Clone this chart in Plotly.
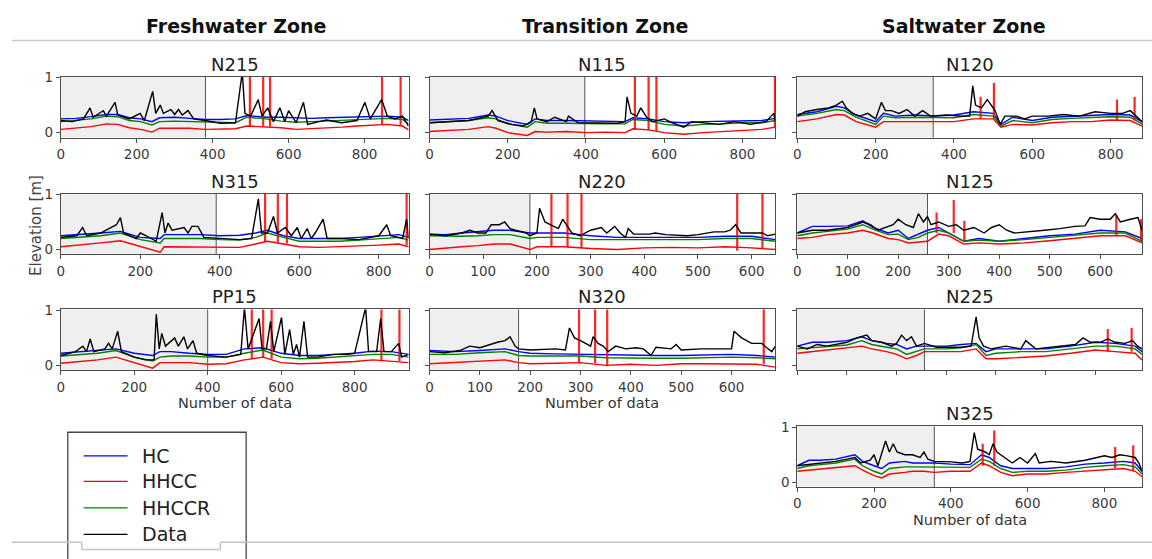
import plotly.graph_objects as go

# ---------------------------------------------------------------- data
SERIES_NAMES = ["HC", "HHCC", "HHCCR", "Data"]

# ---- N215 (Freshwater)
N215_x = [0, 40, 80, 120, 150, 180, 210, 240, 260, 300, 340, 380, 420, 460, 490, 540, 580, 620, 660, 700, 740, 780, 820, 860, 900, 916]
N215_HC = [0.25, 0.26, 0.29, 0.33, 0.33, 0.27, 0.25, 0.20, 0.27, 0.28, 0.26, 0.24, 0.24, 0.25, 0.31, 0.28, 0.28, 0.27, 0.26, 0.27, 0.28, 0.29, 0.30, 0.30, 0.28, 0.22]
N215_HHCC = [0.06, 0.08, 0.11, 0.16, 0.15, 0.09, 0.06, 0.01, 0.08, 0.08, 0.08, 0.06, 0.07, 0.07, 0.12, 0.11, 0.09, 0.06, 0.07, 0.09, 0.10, 0.12, 0.13, 0.15, 0.12, 0.05]
N215_HHCCR = [0.20, 0.22, 0.25, 0.30, 0.29, 0.22, 0.20, 0.14, 0.20, 0.21, 0.20, 0.19, 0.18, 0.18, 0.28, 0.25, 0.21, 0.19, 0.20, 0.21, 0.22, 0.24, 0.25, 0.26, 0.24, 0.16]
N215_spike_x = [498, 533, 551, 846, 895]
N215_spike_base = [0.12, 0.12, 0.11, 0.15, 0.14]
N215_spike_top = [1.3, 1.3, 1.3, 1.3, 1.3]
N215_data_x = [0, 30, 60, 77, 85, 112, 120, 143, 150, 180, 209, 220, 242, 250, 262, 270, 290, 300, 310, 320, 335, 350, 380, 420, 460, 478, 485, 500, 520, 530, 545, 560, 577, 590, 600, 620, 639, 650, 680, 700, 740, 780, 801, 815, 845, 860, 880, 900, 916]
N215_data = [0.22, 0.20, 0.25, 0.45, 0.28, 0.40, 0.30, 0.55, 0.32, 0.25, 0.35, 0.22, 0.75, 0.35, 0.50, 0.35, 0.42, 0.33, 0.42, 0.32, 0.40, 0.25, 0.22, 0.17, 0.18, 1.10, 0.35, 0.30, 0.60, 0.30, 0.45, 0.20, 0.45, 0.20, 0.40, 0.18, 0.55, 0.15, 0.20, 0.23, 0.18, 0.22, 0.55, 0.25, 0.60, 0.30, 0.25, 0.30, 0.12]

# ---- N315
N315_x = [0, 50, 100, 150, 200, 250, 260, 300, 350, 400, 450, 490, 520, 560, 600, 650, 700, 750, 800, 850, 875]
N315_HC = [0.25, 0.27, 0.30, 0.33, 0.22, 0.20, 0.27, 0.27, 0.27, 0.25, 0.26, 0.30, 0.35, 0.25, 0.20, 0.20, 0.20, 0.22, 0.25, 0.27, 0.22]
N315_HHCC = [0.05, 0.08, 0.12, 0.16, 0.05, -0.05, 0.05, 0.05, 0.05, 0.04, 0.04, 0.10, 0.15, 0.10, 0.05, 0.04, 0.05, 0.07, 0.08, 0.10, 0.05]
N315_HHCCR = [0.20, 0.22, 0.25, 0.30, 0.18, 0.12, 0.20, 0.20, 0.20, 0.18, 0.17, 0.22, 0.30, 0.22, 0.15, 0.15, 0.15, 0.17, 0.20, 0.22, 0.17]
N315_spike_x = [514, 546, 569, 870]
N315_spike_base = [0.14, 0.13, 0.11, 0.08]
N315_spike_top = [1.3, 1.3, 1.3, 1.3]
N315_data_x = [0, 40, 55, 65, 100, 140, 150, 158, 190, 200, 215, 240, 255, 262, 270, 280, 310, 320, 330, 345, 360, 400, 450, 480, 497, 505, 520, 535, 545, 565, 580, 595, 605, 620, 630, 640, 660, 670, 700, 750, 800, 820, 830, 860, 870, 875]
N315_data = [0.22, 0.25, 0.40, 0.25, 0.30, 0.45, 0.58, 0.30, 0.20, 0.30, 0.25, 0.15, 0.67, 0.30, 0.48, 0.35, 0.40, 0.30, 0.42, 0.42, 0.22, 0.20, 0.18, 0.20, 0.92, 0.30, 0.30, 0.60, 0.30, 0.40, 0.25, 0.40, 0.20, 0.38, 0.20, 0.30, 0.55, 0.20, 0.20, 0.18, 0.25, 0.45, 0.25, 0.20, 0.55, 0.20]

# ---- PP15
PP15_x = [0, 50, 100, 150, 200, 250, 270, 300, 350, 400, 450, 500, 550, 600, 650, 700, 750, 800, 850, 900, 947]
PP15_HC = [0.22, 0.25, 0.28, 0.30, 0.22, 0.18, 0.25, 0.25, 0.22, 0.20, 0.20, 0.30, 0.32, 0.22, 0.18, 0.18, 0.20, 0.22, 0.26, 0.25, 0.20]
PP15_HHCC = [0.04, 0.07, 0.10, 0.15, 0.05, -0.05, 0.05, 0.05, 0.05, 0.02, 0.03, 0.10, 0.15, 0.05, 0.03, 0.04, 0.05, 0.07, 0.10, 0.08, 0.05]
PP15_HHCCR = [0.17, 0.20, 0.22, 0.27, 0.15, 0.08, 0.15, 0.17, 0.17, 0.15, 0.15, 0.22, 0.28, 0.15, 0.12, 0.13, 0.15, 0.17, 0.20, 0.20, 0.15]
PP15_spike_x = [520, 551, 574, 873, 922]
PP15_spike_base = [0.12, 0.14, 0.12, 0.08, 0.08]
PP15_spike_top = [1.3, 1.3, 1.3, 1.3, 1.3]
PP15_data_x = [0, 40, 60, 70, 80, 90, 120, 130, 140, 155, 165, 200, 230, 254, 260, 268, 275, 285, 310, 320, 335, 345, 360, 370, 400, 450, 490, 500, 510, 540, 548, 560, 571, 580, 601, 610, 623, 633, 642, 650, 662, 672, 700, 740, 780, 800, 830, 838, 860, 871, 880, 900, 920, 928, 947]
PP15_data = [0.18, 0.25, 0.35, 0.25, 0.48, 0.25, 0.30, 0.40, 0.30, 0.62, 0.25, 0.15, 0.10, 0.10, 0.93, 0.30, 0.58, 0.35, 0.50, 0.35, 0.52, 0.30, 0.45, 0.22, 0.18, 0.15, 0.20, 1.05, 0.30, 0.85, 0.30, 0.30, 0.80, 0.25, 0.87, 0.20, 0.65, 0.20, 0.38, 0.15, 0.80, 0.15, 0.15, 0.20, 0.20, 0.22, 1.05, 0.25, 0.25, 0.85, 0.25, 0.25, 0.40, 0.15, 0.20]

# ---- N115 (Transition)
N115_x = [0, 50, 100, 150, 170, 200, 250, 270, 300, 350, 400, 450, 500, 520, 560, 600, 650, 700, 750, 800, 850, 884]
N115_HC = [0.23, 0.25, 0.26, 0.32, 0.30, 0.22, 0.15, 0.25, 0.22, 0.22, 0.21, 0.21, 0.20, 0.27, 0.25, 0.20, 0.18, 0.20, 0.21, 0.22, 0.22, 0.26]
N115_HHCC = [0.02, 0.04, 0.06, 0.11, 0.08, 0.00, -0.05, 0.02, 0.01, 0.02, 0.00, 0.01, 0.00, 0.07, 0.05, 0.00, -0.03, 0.00, 0.02, 0.05, 0.06, 0.10]
N115_HHCCR = [0.18, 0.20, 0.22, 0.27, 0.25, 0.16, 0.10, 0.20, 0.17, 0.17, 0.16, 0.16, 0.16, 0.24, 0.22, 0.15, 0.12, 0.15, 0.16, 0.18, 0.18, 0.22]
N115_spike_x = [525, 560, 580, 883]
N115_spike_base = [0.05, 0.05, 0.03, 0.08]
N115_spike_top = [1.3, 1.3, 1.3, 1.3]
N115_data_x = [0, 50, 100, 150, 160, 175, 210, 240, 260, 268, 275, 300, 320, 350, 355, 380, 420, 480, 500, 505, 515, 530, 540, 555, 570, 600, 620, 650, 670, 700, 740, 780, 820, 860, 880, 884]
N115_data = [0.18, 0.20, 0.22, 0.30, 0.40, 0.22, 0.15, 0.12, 0.20, 0.45, 0.25, 0.20, 0.28, 0.20, 0.30, 0.18, 0.18, 0.17, 0.20, 0.65, 0.35, 0.30, 0.45, 0.28, 0.20, 0.25, 0.18, 0.10, 0.20, 0.18, 0.15, 0.20, 0.15, 0.20, 0.35, 0.20]

# ---- N220
N220_x = [0, 30, 60, 90, 120, 150, 187, 200, 250, 300, 350, 400, 450, 500, 550, 600, 644]
N220_HC = [0.28, 0.27, 0.30, 0.32, 0.35, 0.35, 0.30, 0.30, 0.30, 0.25, 0.22, 0.22, 0.22, 0.22, 0.24, 0.24, 0.18]
N220_HHCC = [0.00, 0.03, 0.05, 0.07, 0.10, 0.10, 0.00, 0.05, 0.05, 0.02, 0.00, 0.03, 0.04, 0.03, 0.05, 0.03, 0.00]
N220_HHCCR = [0.25, 0.24, 0.24, 0.25, 0.27, 0.27, 0.20, 0.22, 0.22, 0.18, 0.18, 0.18, 0.18, 0.18, 0.20, 0.20, 0.15]
N220_spike_x = [227, 257, 283, 573, 620]
N220_spike_base = [0.05, 0.05, 0.03, -0.02, 0.02]
N220_spike_top = [1.3, 1.3, 1.3, 1.3, 1.3]
N220_data_x = [0, 30, 60, 75, 90, 105, 115, 130, 140, 150, 160, 180, 187, 200, 205, 215, 225, 240, 248, 258, 265, 280, 300, 320, 330, 345, 355, 365, 370, 380, 410, 420, 440, 480, 500, 530, 550, 560, 570, 580, 600, 620, 630, 644]
N220_data = [0.28, 0.25, 0.30, 0.35, 0.30, 0.30, 0.45, 0.45, 0.50, 0.38, 0.35, 0.30, 0.25, 0.30, 0.75, 0.50, 0.45, 0.38, 0.55, 0.40, 0.30, 0.25, 0.35, 0.40, 0.30, 0.42, 0.30, 0.22, 0.38, 0.28, 0.28, 0.30, 0.27, 0.25, 0.27, 0.32, 0.32, 0.35, 0.45, 0.30, 0.30, 0.30, 0.25, 0.28]

# ---- N320
N320_x = [0, 50, 100, 150, 177, 200, 250, 300, 350, 400, 450, 500, 550, 600, 650, 687]
N320_HC = [0.27, 0.25, 0.27, 0.30, 0.25, 0.22, 0.21, 0.20, 0.19, 0.18, 0.18, 0.18, 0.19, 0.20, 0.18, 0.15]
N320_HHCC = [0.03, 0.05, 0.08, 0.10, 0.05, 0.03, 0.04, 0.05, 0.00, 0.02, 0.00, 0.03, 0.03, 0.03, 0.02, -0.03]
N320_HHCCR = [0.20, 0.20, 0.23, 0.25, 0.18, 0.17, 0.17, 0.17, 0.14, 0.13, 0.13, 0.13, 0.14, 0.15, 0.14, 0.12]
N320_spike_x = [297, 329, 353, 664]
N320_spike_base = [0.05, 0.04, 0.00, 0.02]
N320_spike_top = [1.3, 1.3, 1.3, 1.3]
N320_data_x = [0, 30, 60, 80, 100, 120, 135, 150, 160, 170, 177, 200, 250, 270, 278, 288, 300, 320, 325, 335, 345, 355, 370, 390, 410, 425, 440, 450, 480, 490, 500, 540, 570, 600, 605, 620, 640, 660, 670, 680, 687]
N320_data = [0.25, 0.23, 0.27, 0.35, 0.32, 0.38, 0.42, 0.45, 0.52, 0.35, 0.30, 0.28, 0.30, 0.28, 0.68, 0.50, 0.45, 0.35, 0.52, 0.40, 0.35, 0.25, 0.35, 0.30, 0.32, 0.30, 0.18, 0.33, 0.30, 0.38, 0.28, 0.30, 0.30, 0.30, 0.62, 0.50, 0.40, 0.40, 0.32, 0.25, 0.35]

# ---- N120 (Saltwater)
N120_x = [0, 50, 100, 120, 150, 200, 220, 250, 300, 350, 400, 450, 500, 520, 550, 600, 650, 700, 750, 800, 850, 880]
N120_HC = [0.33, 0.38, 0.48, 0.45, 0.32, 0.20, 0.35, 0.30, 0.32, 0.30, 0.32, 0.38, 0.35, 0.15, 0.28, 0.22, 0.28, 0.30, 0.32, 0.33, 0.32, 0.20]
N120_HHCC = [0.20, 0.25, 0.33, 0.32, 0.20, 0.10, 0.20, 0.20, 0.20, 0.20, 0.20, 0.25, 0.25, 0.10, 0.15, 0.14, 0.18, 0.20, 0.20, 0.23, 0.22, 0.12]
N120_HHCCR = [0.30, 0.35, 0.42, 0.40, 0.28, 0.15, 0.30, 0.27, 0.28, 0.27, 0.27, 0.33, 0.30, 0.12, 0.22, 0.18, 0.24, 0.26, 0.28, 0.29, 0.28, 0.16]
N120_spike_x = [468, 502, 816, 861]
N120_spike_base = [0.25, 0.25, 0.22, 0.22]
N120_spike_top = [0.65, 0.90, 0.60, 0.65]
N120_data_x = [0, 20, 50, 80, 100, 115, 125, 140, 160, 180, 200, 215, 225, 240, 260, 280, 300, 320, 340, 380, 420, 440, 448, 455, 470, 485, 495, 505, 518, 530, 560, 580, 600, 640, 680, 720, 760, 800, 830, 850, 865, 880]
N120_data = [0.30, 0.38, 0.42, 0.45, 0.50, 0.57, 0.45, 0.35, 0.30, 0.35, 0.25, 0.55, 0.40, 0.40, 0.35, 0.42, 0.30, 0.40, 0.30, 0.32, 0.30, 0.30, 0.85, 0.50, 0.45, 0.60, 0.50, 0.40, 0.15, 0.30, 0.30, 0.25, 0.30, 0.30, 0.33, 0.30, 0.38, 0.35, 0.35, 0.40, 0.30, 0.20]

# ---- N125
N125_x = [0, 30, 60, 100, 130, 150, 180, 200, 220, 240, 258, 280, 300, 330, 360, 400, 450, 500, 550, 600, 650, 683]
N125_HC = [0.30, 0.42, 0.42, 0.43, 0.52, 0.40, 0.30, 0.35, 0.20, 0.28, 0.35, 0.40, 0.30, 0.15, 0.20, 0.15, 0.20, 0.25, 0.28, 0.35, 0.32, 0.20]
N125_HHCC = [0.20, 0.22, 0.27, 0.30, 0.35, 0.30, 0.20, 0.18, 0.12, 0.14, 0.15, 0.28, 0.25, 0.10, 0.12, 0.10, 0.12, 0.16, 0.20, 0.25, 0.25, 0.12]
N125_HHCCR = [0.25, 0.30, 0.33, 0.37, 0.45, 0.37, 0.27, 0.28, 0.18, 0.22, 0.30, 0.35, 0.30, 0.15, 0.17, 0.15, 0.18, 0.22, 0.25, 0.30, 0.30, 0.15]
N125_spike_x = [276, 310, 331, 632, 681]
N125_spike_base = [0.30, 0.30, 0.15, 0.25, 0.15]
N125_spike_top = [0.67, 0.90, 0.52, 0.62, 0.55]
N125_data_x = [0, 30, 60, 100, 130, 145, 160, 190, 200, 215, 230, 240, 250, 258, 265, 280, 300, 315, 330, 350, 370, 385, 400, 415, 430, 460, 490, 520, 550, 570, 580, 600, 620, 630, 640, 660, 675, 683]
N125_data = [0.30, 0.35, 0.35, 0.40, 0.50, 0.45, 0.35, 0.45, 0.55, 0.45, 0.40, 0.65, 0.50, 0.60, 0.45, 0.50, 0.42, 0.45, 0.35, 0.40, 0.30, 0.40, 0.45, 0.35, 0.30, 0.32, 0.35, 0.38, 0.42, 0.43, 0.58, 0.55, 0.55, 0.65, 0.50, 0.55, 0.58, 0.35]

# ---- N225
N225_x = [0, 30, 60, 100, 130, 150, 180, 200, 220, 240, 256, 300, 330, 360, 380, 400, 450, 500, 550, 600, 640, 680, 694]
N225_HC = [0.35, 0.42, 0.42, 0.45, 0.52, 0.45, 0.40, 0.38, 0.30, 0.35, 0.35, 0.35, 0.38, 0.40, 0.25, 0.30, 0.30, 0.30, 0.35, 0.42, 0.40, 0.35, 0.25]
N225_HHCC = [0.22, 0.25, 0.28, 0.32, 0.35, 0.30, 0.25, 0.20, 0.12, 0.18, 0.25, 0.25, 0.25, 0.30, 0.12, 0.12, 0.15, 0.17, 0.22, 0.28, 0.25, 0.22, 0.10]
N225_HHCCR = [0.30, 0.32, 0.33, 0.37, 0.45, 0.38, 0.33, 0.30, 0.20, 0.26, 0.30, 0.30, 0.32, 0.38, 0.18, 0.22, 0.25, 0.25, 0.30, 0.35, 0.35, 0.30, 0.20]
N225_spike_x = [625, 673]
N225_spike_base = [0.25, 0.25]
N225_spike_top = [0.66, 0.68]
N225_data_x = [0, 20, 40, 60, 100, 120, 140, 150, 170, 190, 200, 210, 220, 230, 240, 256, 280, 300, 330, 350, 360, 366, 375, 390, 420, 450, 460, 480, 500, 530, 560, 575, 590, 610, 625, 640, 660, 675, 685, 694]
N225_data = [0.35, 0.30, 0.38, 0.35, 0.42, 0.50, 0.55, 0.45, 0.42, 0.35, 0.40, 0.55, 0.45, 0.52, 0.35, 0.40, 0.33, 0.33, 0.33, 0.35, 0.88, 0.50, 0.35, 0.30, 0.35, 0.30, 0.45, 0.30, 0.32, 0.35, 0.38, 0.50, 0.42, 0.42, 0.48, 0.42, 0.40, 0.45, 0.35, 0.30]

# ---- N325
N325_x = [0, 30, 60, 100, 150, 170, 200, 220, 240, 280, 300, 330, 357, 400, 450, 480, 500, 530, 560, 600, 650, 700, 750, 800, 850, 880, 898]
N325_HC = [0.30, 0.40, 0.40, 0.42, 0.50, 0.38, 0.30, 0.25, 0.35, 0.38, 0.35, 0.35, 0.35, 0.33, 0.32, 0.50, 0.45, 0.30, 0.25, 0.25, 0.25, 0.28, 0.33, 0.35, 0.38, 0.35, 0.20]
N325_HHCC = [0.20, 0.22, 0.25, 0.27, 0.30, 0.22, 0.12, 0.08, 0.15, 0.18, 0.20, 0.20, 0.18, 0.20, 0.20, 0.35, 0.30, 0.18, 0.12, 0.15, 0.15, 0.18, 0.20, 0.22, 0.25, 0.20, 0.10]
N325_HHCCR = [0.25, 0.30, 0.32, 0.35, 0.42, 0.30, 0.20, 0.15, 0.25, 0.28, 0.28, 0.28, 0.27, 0.27, 0.27, 0.42, 0.38, 0.25, 0.18, 0.20, 0.20, 0.22, 0.27, 0.30, 0.32, 0.28, 0.15]
N325_spike_x = [483, 513, 828, 875]
N325_spike_base = [0.30, 0.30, 0.25, 0.22]
N325_spike_top = [0.70, 0.94, 0.64, 0.67]
N325_data_x = [0, 30, 60, 100, 130, 150, 165, 190, 200, 210, 230, 240, 250, 260, 280, 300, 320, 330, 340, 357, 400, 430, 450, 461, 470, 490, 500, 510, 520, 540, 560, 580, 600, 620, 630, 660, 700, 750, 800, 820, 840, 860, 880, 890, 898]
N325_data = [0.30, 0.32, 0.35, 0.38, 0.42, 0.45, 0.35, 0.40, 0.50, 0.30, 0.75, 0.55, 0.70, 0.55, 0.50, 0.50, 0.45, 0.55, 0.42, 0.38, 0.37, 0.35, 0.38, 0.90, 0.60, 0.55, 0.50, 0.70, 0.55, 0.45, 0.35, 0.45, 0.35, 0.52, 0.35, 0.38, 0.35, 0.40, 0.48, 0.45, 0.50, 0.48, 0.45, 0.35, 0.20]

# number of data per well and calibration/validation split index
WELLS = ["N215", "N315", "PP15", "N115", "N220", "N320", "N120", "N125", "N225", "N325"]
N_DATA = [916, 875, 947, 884, 644, 687, 880, 683, 694, 898]
SPLIT = [381, 391, 400, 397, 187, 177, 347, 258, 256, 357]
ZONES = ["Freshwater Zone", "Transition Zone", "Saltwater Zone"]

# ---------------------------------------------------------------- layout
W, H = 1152, 559
def px(x): return x / W
def py(y): return 1 - y / H

COL_X = [(57, 406), (427, 774), (796, 1142)]
ROW_Y = [(71, 133), (190, 252), (308, 370), (427, 489)]
HEADER_X = [233, 603, 963]

# (col, row, dtick, show y labels, show x labels, x title)
PANEL_POS = {
    "N215": (0, 0, 200, True, True, False),
    "N315": (0, 1, 200, True, True, False),
    "PP15": (0, 2, 200, True, True, True),
    "N115": (1, 0, 200, False, True, False),
    "N220": (1, 1, 100, False, True, False),
    "N320": (1, 2, 100, False, True, True),
    "N120": (2, 0, 200, False, True, False),
    "N125": (2, 1, 100, False, True, False),
    "N225": (2, 2, 100, False, False, False),
    "N325": (2, 3, 200, True, True, True),
}

COLORS = {"HC": "#0000ff", "HHCC": "#ff0000", "HHCCR": "#008000", "Data": "#000000"}
FONT = "DejaVu Sans"
AX_COLOR = "#4d4d4d"
TICK_FONT = dict(family=FONT, size=13.5, color="#3a3a3a")

g = globals()
fig = go.Figure()
layout = dict(
    width=W, height=H, margin=dict(l=0, r=0, t=0, b=0),
    paper_bgcolor="white", plot_bgcolor="white", showlegend=False,
    font=dict(family=FONT, color="#222"),
)
shapes, annotations = [], []

for i, name in enumerate(WELLS):
    n = i + 1
    col, row, dtick, show_y, show_x, xtitle = PANEL_POS[name]
    x0, x1 = COL_X[col]
    y0, y1 = ROW_Y[row]
    xa, ya = ("x" if n == 1 else f"x{n}"), ("y" if n == 1 else f"y{n}")
    xk, yk = ("xaxis" if n == 1 else f"xaxis{n}"), ("yaxis" if n == 1 else f"yaxis{n}")

    gx = g[f"{name}_x"]
    for s in ["HC", "HHCC", "HHCCR"]:
        ys = g[f"{name}_{s}"]
        assert len(ys) == len(gx), (name, s)
        fig.add_trace(go.Scatter(x=gx, y=ys, mode="lines", name=s, xaxis=xa, yaxis=ya,
                                 line=dict(color=COLORS[s], width=1.4)))
        if s == "HHCC":
            sx, sb, st = g[f"{name}_spike_x"], g[f"{name}_spike_base"], g[f"{name}_spike_top"]
            xs, yv = [], []
            for a, b, c in zip(sx, sb, st):
                xs += [a, a, None]
                yv += [b, c, None]
            fig.add_trace(go.Scatter(x=xs, y=yv, mode="lines", name="HHCC", xaxis=xa, yaxis=ya,
                                     line=dict(color=COLORS["HHCC"], width=2.2), opacity=0.85))
    dx, dy = g[f"{name}_data_x"], g[f"{name}_data"]
    assert len(dx) == len(dy), (name, "data")
    fig.add_trace(go.Scatter(x=dx, y=dy, mode="lines", name="Data", xaxis=xa, yaxis=ya,
                             line=dict(color=COLORS["Data"], width=1.4)))

    layout[xk] = dict(
        domain=[px(x0), px(x1)], anchor=ya, range=[0, N_DATA[i]],
        showgrid=False, zeroline=False, showline=True, mirror=True,
        linecolor=AX_COLOR, linewidth=1,
        ticks="outside", ticklen=4, tickcolor=AX_COLOR, tickwidth=1,
        tick0=0, dtick=dtick, showticklabels=show_x, tickfont=TICK_FONT,
    )
    layout[yk] = dict(
        domain=[py(y1), py(y0)], anchor=xa, range=[-0.09, 1.015],
        showgrid=False, zeroline=False, showline=True, mirror=True,
        linecolor=AX_COLOR, linewidth=1,
        ticks="outside", ticklen=4, tickcolor=AX_COLOR, tickwidth=1,
        tickvals=[0, 1], ticktext=["0", "1"], showticklabels=show_y, tickfont=TICK_FONT,
    )
    # calibration (gray) period + split line
    shapes.append(dict(type="rect", xref=xa, yref=f"{ya} domain", x0=0, x1=SPLIT[i], y0=0, y1=1,
                       fillcolor="#efefef", line=dict(width=0), layer="below"))
    shapes.append(dict(type="line", xref=xa, yref=f"{ya} domain", x0=SPLIT[i], x1=SPLIT[i], y0=0, y1=1,
                       line=dict(color="#555", width=1), layer="below"))
    # panel title
    annotations.append(dict(text=name, xref="paper", yref="paper", x=px((x0 + x1) / 2), y=py(y0),
                            xanchor="center", yanchor="bottom", yshift=0, showarrow=False,
                            font=dict(family=FONT, size=18, color="#222")))
    if xtitle:
        annotations.append(dict(text="Number of data", xref="paper", yref="paper",
                                x=px((x0 + x1) / 2), y=py(y1 + 33), xanchor="center", yanchor="middle",
                                showarrow=False, font=dict(family=FONT, size=14.5, color="#333")))

# zone headers
for hx, z in zip(HEADER_X, ZONES):
    annotations.append(dict(text=f"<b>{z}</b>", xref="paper", yref="paper", x=px(hx), y=py(19),
                            xanchor="center", yanchor="middle", showarrow=False,
                            font=dict(family=FONT, size=19, color="#111")))
# y title
annotations.append(dict(text="Elevation [m]", xref="paper", yref="paper", x=px(32), y=py(222),
                        xanchor="center", yanchor="middle", textangle=-90, showarrow=False,
                        font=dict(family=FONT, size=15, color="#444")))

# header separator
shapes.append(dict(type="line", xref="paper", yref="paper", x0=px(8), x1=px(1152), y0=py(34), y1=py(34),
                   line=dict(color="#cccccc", width=1.5)))

# legend box (manual, clipped by page bottom like the reference)
LEG_Y = [457, 483, 510, 537]
shapes.append(dict(type="rect", xref="paper", yref="paper", x0=px(64), x1=px(243), y0=py(433), y1=py(580),
                   fillcolor="white", line=dict(color="#444", width=1.3)))
for s, ly in zip(SERIES_NAMES, LEG_Y):
    shapes.append(dict(type="line", xref="paper", yref="paper", x0=px(80), x1=px(124), y0=py(ly), y1=py(ly),
                       line=dict(color=COLORS[s], width=1.3)))
    annotations.append(dict(text=s, xref="paper", yref="paper", x=px(136), y=py(ly), xanchor="left",
                            yanchor="middle", showarrow=False, font=dict(family=FONT, size=19, color="#222")))

# bottom separator with notch
BL = "#c4c4c4"
for (a, b, c, d) in [(8, 545, 78, 545), (78, 545, 78, 552.5), (78, 552.5, 217, 552.5),
                     (217, 552.5, 217, 545), (217, 545, 1152, 545)]:
    shapes.append(dict(type="line", xref="paper", yref="paper", x0=px(a), y0=py(b), x1=px(c), y1=py(d),
                       line=dict(color=BL, width=1.5)))

layout["shapes"] = shapes
layout["annotations"] = annotations
fig.update_layout(**layout)
fig.write_html("out.html")
